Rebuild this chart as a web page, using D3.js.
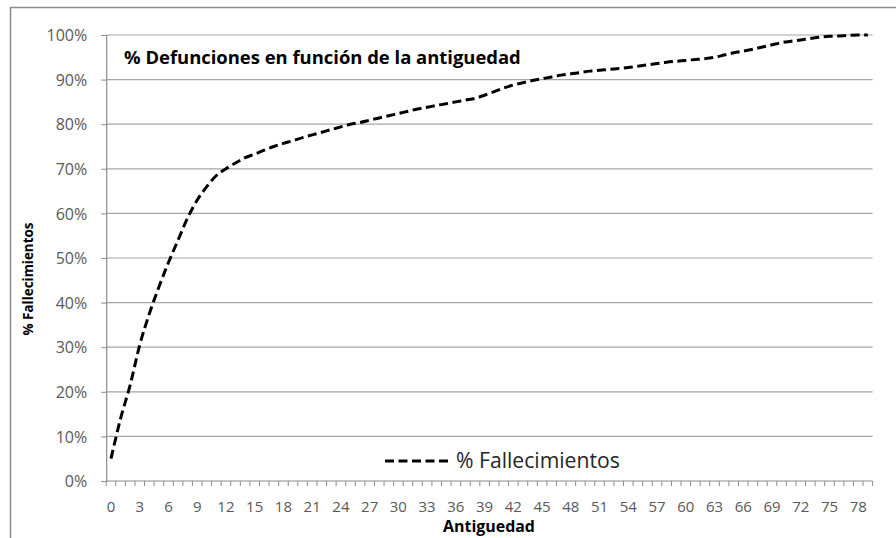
<!DOCTYPE html>
<html>
<head>
<meta charset="utf-8">
<script src="https://cdn.jsdelivr.net/npm/d3@7"></script>
<style>
html,body{margin:0;padding:0;background:#fff;}
svg{display:block;}
</style>
</head>
<body>
<svg id="chart" width="896" height="538"></svg>
<script>
const categories = d3.range(0, 80);
const fallecimientos = [
  5, 14, 21.5, 30.5, 37.5, 43.5, 49, 54, 59, 63,
  66, 68.5, 70, 71.3, 72.5, 73.3, 74.2, 75, 75.7, 76.3,
  77, 77.6, 78.2, 78.8, 79.4, 80, 80.4, 80.9, 81.4, 81.9,
  82.4, 82.9, 83.4, 83.8, 84.2, 84.6, 85.0, 85.4, 85.8, 86.5,
  87.3, 88.1, 88.8, 89.3, 89.8, 90.2, 90.6, 91.0, 91.3, 91.6,
  91.9, 92.1, 92.3, 92.5, 92.7, 93.0, 93.3, 93.6, 93.9, 94.1,
  94.3, 94.5, 94.7, 95.0, 95.5, 96.0, 96.4, 96.8, 97.3, 97.8,
  98.3, 98.6, 98.9, 99.2, 99.5, 99.7, 99.8, 99.9, 100, 100
];
const yTicks = [0, 10, 20, 30, 40, 50, 60, 70, 80, 90, 100];
const xTickLabels = categories.filter(d => d % 3 === 0);
const titleText = "% Defunciones en función de la antiguedad";
const xTitle = "Antiguedad";
const yTitle = "% Fallecimientos";
const seriesName = "% Fallecimientos";

(function () {
const svg = d3.select("#chart");
const font = "'Open Sans', Lato, sans-serif";
const mLeft = 106.2, mRight = 872.6, mTop = 35, mBottom = 481;

function fit(sel, target) {
  const w = sel.node().getComputedTextLength();
  const fs = parseFloat(sel.style("font-size"));
  if (w > 0) sel.style("font-size", (fs * target / w) + "px");
  return sel;
}

// outer border
svg.append("path")
  .attr("d", `M10.5,538 L10.5,7.5 L896,7.5`)
  .attr("fill", "none").attr("stroke", "#8c8c8c").attr("stroke-width", 1.5);

const x = d3.scaleBand().domain(categories).range([mLeft, mRight]);
const y = d3.scaleLinear().domain([0, 100]).range([mBottom, mTop]);

// gridlines
svg.append("g").selectAll("line").data(yTicks.filter(d => d > 0)).join("line")
  .attr("x1", mLeft).attr("x2", mRight)
  .attr("y1", d => y(d)).attr("y2", d => y(d))
  .attr("stroke", "#a6a6a6").attr("stroke-width", 1.2);

// y axis
const yAxis = d3.axisLeft(y).tickValues(yTicks).tickFormat(d => d + "%").tickSize(5).tickPadding(14);
const gy = svg.append("g").attr("transform", `translate(${mLeft},0)`).call(yAxis);
gy.select(".domain").attr("stroke", "#8c8c8c").attr("stroke-width", 1.2);
gy.selectAll(".tick line").attr("stroke", "#8c8c8c");
gy.selectAll("text").attr("fill", "#595959").style("font-family", font).style("font-size", "16px")
  .attr("dy", "0.36em");

// x axis
const gx = svg.append("g").attr("transform", `translate(0,${mBottom})`);
gx.append("line").attr("x1", mLeft).attr("x2", mRight).attr("y1", 0).attr("y2", 0)
  .attr("stroke", "#8c8c8c").attr("stroke-width", 1.2);
const bounds = categories.map(c => x(c)).concat([mRight]);
gx.selectAll("line.tk").data(bounds).join("line").attr("class", "tk")
  .attr("x1", d => d).attr("x2", d => d).attr("y1", 0).attr("y2", 5)
  .attr("stroke", "#8c8c8c");
gx.selectAll("text").data(xTickLabels).join("text")
  .attr("x", d => x(d) + x.bandwidth() / 2).attr("y", 30.5)
  .attr("text-anchor", "middle").attr("fill", "#595959")
  .style("font-family", font).style("font-size", "15px")
  .text(d => d);

// line
const line = d3.line()
  .x((d, i) => x(categories[i]) + x.bandwidth() / 2)
  .y(d => y(d))
  .curve(d3.curveMonotoneX);
svg.append("path").datum(fallecimientos)
  .attr("d", line).attr("fill", "none")
  .attr("stroke", "#000").attr("stroke-width", 3)
  .attr("stroke-dasharray", "9,4.5");

// title
fit(svg.append("text").attr("x", 124).attr("y", 64)
  .style("font-family", font).style("font-size", "17px").style("font-weight", "bold")
  .attr("fill", "#000").text(titleText), 397);

// axis titles
fit(svg.append("text").attr("x", 489).attr("y", 532).attr("text-anchor", "middle")
  .style("font-family", font).style("font-size", "15px").style("font-weight", "bold")
  .text(xTitle), 92);
fit(svg.append("text").attr("transform", `translate(33,279) rotate(-90)`).attr("text-anchor", "middle")
  .style("font-family", font).style("font-size", "15px").style("font-weight", "bold")
  .text(yTitle), 113);

// legend
svg.append("line").attr("x1", 385).attr("x2", 448).attr("y1", 461).attr("y2", 461)
  .attr("stroke", "#000").attr("stroke-width", 3).attr("stroke-dasharray", "9,4.5");
fit(svg.append("text").attr("x", 456).attr("y", 468)
  .style("font-family", font).style("font-size", "18px").attr("fill", "#262626")
  .text(seriesName), 164);
})();
</script>
</body>
</html>
